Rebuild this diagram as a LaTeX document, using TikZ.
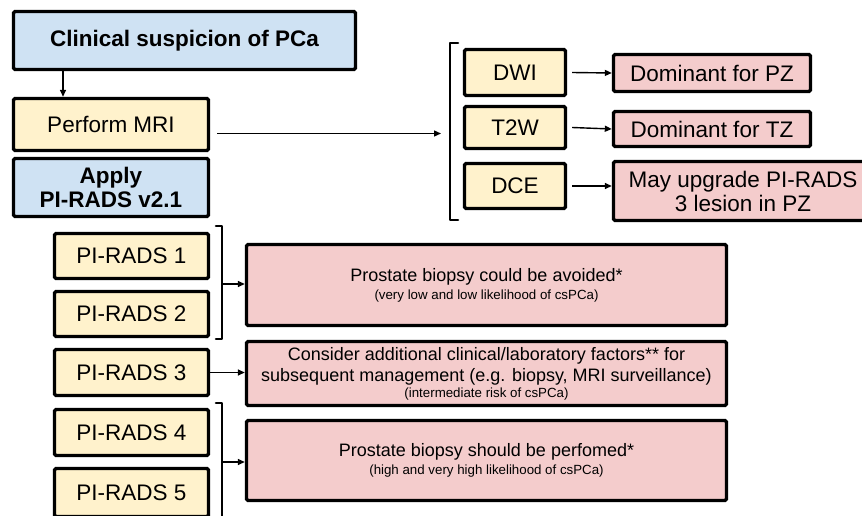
\documentclass[tikz,border=0pt]{standalone}
\usepackage{fontspec}
\setmainfont{Liberation Sans}
\usetikzlibrary{arrows.meta}
\definecolor{bblue}{HTML}{CFE2F3}
\definecolor{byel}{HTML}{FFF2CC}
\definecolor{bpink}{HTML}{F4CCCC}
\tikzset{
  box/.style={draw=black, line width=3.4pt, rounded corners=1.5pt, inner sep=0pt, align=center, text=black},
  bluebox/.style={box, fill=bblue},
  yelbox/.style={box, fill=byel},
  pinkbox/.style={box, fill=bpink},
  conn/.style={line width=1.4pt, -{Triangle[length=7pt,width=6pt]}},
  brk/.style={line width=2.6pt, line cap=round, line join=round},
  big/.style={font=\fontsize{22.5}{24}\selectfont},
  mid/.style={font=\fontsize{18}{21}\selectfont},
}
\newcommand{\smalltxt}[1]{{\fontsize{13.3}{15}\selectfont #1}}
\begin{document}
\begin{tikzpicture}[x=1pt,y=-1pt]
\useasboundingbox (0,0) rectangle (862,516);
\clip (0,0) rectangle (862,516);
% top left column
\node[bluebox, big, minimum width=342pt, minimum height=58pt] (clin) at (184.5,40.5) {\textbf{Clinical suspicion of PCa}};
\node[yelbox, big, minimum width=195pt, minimum height=52pt] (mri) at (111,124.5) {Perform MRI};
\node[bluebox, big, minimum width=195pt, minimum height=58pt] (apply) at (111,187.5) {\textbf{Apply}\\\textbf{PI-RADS v2.1}};
\coordinate (c1) at (63,71.5);
\draw[conn] (c1) -- (c1 |- mri.north);
% sequences
\node[yelbox, big, minimum width=101pt, minimum height=46pt] (dwi) at (515,72.5) {DWI};
\node[yelbox, big, minimum width=101pt, minimum height=42pt] (t2w) at (515,127.5) {T2W};
\node[yelbox, big, minimum width=101pt, minimum height=45pt] (dce) at (515,186) {DCE};
\node[pinkbox, big, minimum width=197pt, minimum height=37pt] (dpz) at (712,73) {Dominant for PZ};
\node[pinkbox, big, minimum width=197pt, minimum height=35pt] (dtz) at (712,129) {Dominant for TZ};
\node[pinkbox, big, minimum width=251pt, minimum height=59pt] (upg) at (739,191) {};
\node[big, align=center] (upgt) at (743,191) {May upgrade PI-RADS\\3 lesion in PZ};
\coordinate (m1) at (217,133.5);
\coordinate (brA) at (441,133.5);
\draw[conn] (m1) -- (brA);
\draw[brk] (458,43) -- (450,43) -- (450,220) -- (458,220);
\draw[conn] (dwi.east) ++(5,0) -- (dpz.west);
\draw[conn] (t2w.east) ++(5,0) -- (dtz.west);
\draw[conn] (dce.east) ++(5,0) -- (dce.east -| upg.west);
% PI-RADS
\node[yelbox, big, minimum width=154pt, minimum height=45pt] (p1) at (131.5,256) {PI-RADS 1};
\node[yelbox, big, minimum width=154pt, minimum height=45pt] (p2) at (131.5,314) {PI-RADS 2};
\node[yelbox, big, minimum width=154pt, minimum height=46pt] (p3) at (131.5,372.5) {PI-RADS 3};
\node[yelbox, big, minimum width=154pt, minimum height=46pt] (p4) at (131.5,432.5) {PI-RADS 4};
\node[yelbox, big, minimum width=154pt, minimum height=48pt] (p5) at (131.5,492.5) {PI-RADS 5};
\node[pinkbox, mid, minimum width=480pt, minimum height=81pt] (b1) at (486.5,285) {Prostate biopsy could be avoided*\\[-3pt]\smalltxt{(very low and low likelihood of csPCa)}};
\node[pinkbox, mid, minimum width=480pt, minimum height=64pt] (b2) at (486.5,373.5) {Consider additional clinical/laboratory factors** for\\subsequent management (e.g. biopsy, MRI surveillance)\\[-5pt]\smalltxt{(intermediate risk of csPCa)}};
\node[pinkbox, mid, minimum width=480pt, minimum height=80pt] (b3) at (486.5,460.5) {Prostate biopsy should be perfomed*\\[-3pt]\smalltxt{(high and very high likelihood of csPCa)}};
\draw[brk] (216,226) -- (222,226) -- (222,339) -- (216,339);
\draw[brk] (216,403) -- (222,403) -- (222,520);
\coordinate (k1) at (222,284);
\coordinate (k2) at (222,462);
\draw[conn] (k1) -- (k1 -| b1.west);
\draw[conn] (p3.east) -- (p3.east -| b2.west);
\draw[conn] (k2) -- (k2 -| b3.west);
\end{tikzpicture}
\end{document}
